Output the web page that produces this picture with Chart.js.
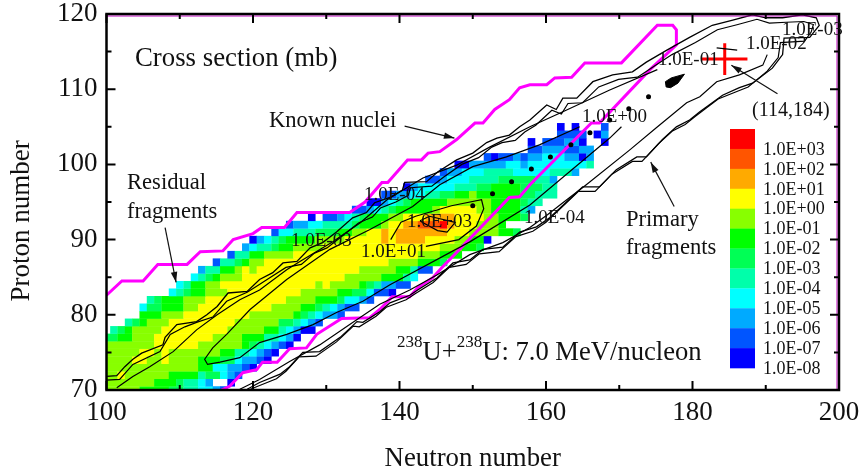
<!DOCTYPE html>
<html>
<head>
<meta charset="utf-8">
<style>
  body { margin: 0; background: #fff; }
  canvas { display: block; }
</style>
</head>
<body>
<canvas id="chart" width="864" height="476"></canvas>
<script src="https://cdn.jsdelivr.net/npm/chart.js"></script>
<script>
/* ---------------- DATA ---------------- */
const xTicks = [100, 120, 140, 160, 180, 200];
const yTicks = [70, 80, 90, 100, 110, 120];
const xMinorTicks = [110, 130, 150, 170, 190];
const yMinorTicks = [75, 85, 95, 105, 115];

const levelLabels = ['1.0E-08', '1.0E-07', '1.0E-06', '1.0E-05', '1.0E-04', '1.0E-03',
  '1.0E-02', '1.0E-01', '1.0E+00', '1.0E+01', '1.0E+02', '1.0E+03'];
const levelColors = ['#0000ff', '#0055ff', '#00aaff', '#00ffff', '#00ffaa', '#00ff55',
  '#00ff00', '#88ff00', '#ffff00', '#ffaa00', '#ff5500', '#ff0000'];

// proton number of each heat row, first neutron number, then level runs
// (level digit in base 12, "x" count, "." = empty cell)
const heatZ = [70, 71, 72, 73, 74, 75, 76, 77, 78, 79, 80, 81, 82, 83, 84, 85, 86, 87,
  88, 89, 90, 91, 92, 93, 94, 95, 96, 97, 98, 99, 100, 101, 102, 103, 104, 105];
const heatStart = [100, 100, 100, 100, 100, 100, 100, 100, 101, 103, 105, 105, 106, 109, 110, 112, 113, 115,
  117, 119, 120, 123, 125, 128, 134, 136, 138, 141, 144, 146, 148, 152, 158, 158, 162, 162];
const heatRuns = [
  '7x5 6x4 5x2 4x2 3x2 2 1',
  '7x7 6x3 5 4x2 3 2 .x2 0',
  '7x2 8 7x6 6x4 4 5x2 3 2 1',
  '7x13 6x2 3x2 2x2 1 0',
  '7x4 8x2 7x2 8 7x4 6x3 5x2 3 2x2 1 0',
  '7x5 8x2 7 8 7x7 6x2 4x2 3 2 1 0',
  '7x7 8x6 7x6 6 5 4 3 2 1 0',
  '5x2 6x2 7x3 8x8 7x4 6x3 4x2 3 2 0',
  '4 5 6 7x4 8x9 7x5 6x2 4 3 2 0x2',
  '4 5 6 7x3 8x9 7x6 5x2 4 3 2 1',
  '6x3 7x3 8x9 7x6 6 5 4 3 2x2 1',
  '3 5x2 6x3 7x2 8x10 7x4 6x2 5 4 3 2 1x2',
  '4 5 6x3 7x3 8x11 7x4 6x3 5 3x2 2 1',
  '3 4 5 6x2 7x3 8x10 7x5 6x2 5x2 3 1x2 0',
  '3 4 6x2 7x2 8x13 7 8 7x4 6 5 4 2x2 1x2',
  '3 4 5 6 7x3 8x14 7x5 6x3 4 3',
  '2 4x2 6x2 7 8 7 8x14 7x5 6x2 4 1x2',
  '1 4x2 5 6 7x2 8x17 7x4 6x3 5',
  '1 4x2 6x2 7x4 8x17 7x3 6x3',
  '2 3 4x2 5 6x2 7x4 8x16 7x3 6x2 5',
  '0 2 3 4 5 6x4 7x4 8x5 9 8 9x4 8x4 7x2 6x2 0',
  '1 3x2 4x3 5x3 6x2 7x2 8x2 9 8 9x7 8x3 7x4 6x2 5',
  '1 2x2 3x2 4x4 5 6x3 7 8x2 9x2 ax3 b 9 8x3 7x3 6',
  '0 . 1x2 2 3 4 5 6x3 7x2 8x3 9x4 8x4 7x2 6x3 5',
  '1x2 2 3 4 5 6x5 7 8x5 7x2 6x4 4 2',
  '0x2 2 3 4 5 6x5 7x6 6x4 5 4x2',
  '1x2 2x2 3x2 4x2 5x2 6x2 7 6x6 5x2 4x3',
  '0 2 3x5 4x3 5x2 6x4 5x3 4x2',
  '1x2 2 3x3 4x4 5x5 4x2 2',
  '1 2x2 3x3 4x4 3x5 4x3 2',
  '0x2 2x5 3x2 2 3x8 4',
  '1 0 1x2 2 1 2x2 3x3 2x2 0 2',
  '1x2 2x3 1x2 2x2',
  '0 . 1x3 2x2 0 .x2 0',
  '1x4 . 0 2',
  '0 . 0 .x3 1'
];

// known nuclei boundary, [N, Z]
const knownNuclei = [[100, 82.6], [102.1, 84.5], [105, 84.5], [107, 86.7], [111, 86.7], [112.8, 88.4], [115.9, 88.5],
  [117.3, 90], [120, 90.8], [121.2, 91.6], [124.3, 91.6], [126, 93.6], [133.2, 93.6], [135.3, 95], [137.6, 97.6],
  [138.4, 97.6], [141.1, 100.6], [143, 100.6], [143.9, 101.5], [145.5, 101.7], [147.8, 103.3], [150.3, 105.5],
  [151.4, 105.5], [153, 107.3], [155, 108.6], [156.4, 110.2], [157.8, 110.6], [160.1, 110.6], [161.2, 111.5],
  [163.5, 111.6], [165.3, 113.5], [170.3, 113.5], [175.2, 118.5], [177.3, 118.5], [177.8, 117.9], [177.8, 115.9],
  [174.2, 112.6], [167.3, 105.5], [166.2, 105.5], [157.8, 97.3], [156.4, 95.7], [155, 95.6], [148.2, 88.7],
  [145.8, 86.3], [144.5, 84.9], [142.5, 83.6], [141.4, 82.4], [139, 82.4], [137.3, 80.7], [135.9, 79.6],
  [132.1, 79.5], [128.7, 77.4], [127.3, 75.6], [125, 75.5], [123.3, 73.7], [121.3, 73.7], [120.5, 72.7],
  [118.6, 72.3], [116.8, 70.5], [115.7, 70]];

// contours, [N, Z]
const contourOuter = [[100, 71.8], [101.4, 71.9], [102.5, 73.1], [103.6, 74.1], [104.8, 74.9], [107.7, 76], [108, 77],
  [109.6, 78.7], [112.3, 79.1], [113.7, 80], [115.1, 81.1], [116.6, 82.9], [119.2, 83.1], [120.9, 84.7], [122.7, 85.6],
  [124.1, 86.9], [126, 87.1], [127.8, 88.9], [129.5, 89.6], [131.4, 91], [133.6, 92.9], [135.5, 93.6], [136.6, 94.9],
  [138.7, 95.6], [140.4, 96.6], [140.7, 97.6], [143.7, 97.7], [145.2, 99], [147.8, 100.6], [150, 101.5], [151.9, 102.9],
  [153.3, 103.5], [155, 103.9], [156.4, 105], [157.8, 105.9], [160.1, 107.9], [161.4, 107.3], [162.3, 108.8],
  [164.2, 108.8], [166.4, 111], [169.1, 111.9], [171.8, 112.3], [173.7, 113.6], [176.5, 115.2], [179.6, 116.9],
  [182.7, 118.5], [185.5, 119.2], [188.2, 119.9], [190, 119.5], [192.3, 119.5], [195, 119.9], [196.9, 119.5],
  [197.3, 118.5], [196, 116.9], [192.5, 116.8], [192.3, 114.6], [190.9, 112.8], [188.2, 110.8], [186.4, 110.2],
  [184.1, 109.2], [181, 107], [179.6, 105.9], [177.8, 105], [175.9, 103.3], [173.7, 101], [172.4, 101], [169.6, 99.3],
  [167.3, 97], [165, 97], [160.5, 92.9], [158.7, 91.7], [156.4, 91], [154.1, 89], [151.4, 88.7], [149.6, 87.3],
  [147.3, 86.9], [145.1, 84.9], [142.8, 83.5], [141.4, 82.6], [138.7, 81.6], [137.3, 80.4], [135, 79], [134.2, 79.1],
  [131.9, 77], [129.1, 75.1], [126.8, 75], [125, 73.1], [123.7, 72.1], [120.9, 71], [119.2, 70.1]];
const contourSecond = [[100, 71.3], [101.8, 71.4], [103.6, 73.4], [107.3, 75.1], [108.7, 77.4], [110.7, 78.4], [112.3, 79],
  [114.5, 79.7], [116.4, 81.8], [119.2, 83], [120.5, 83.8], [122.4, 85], [124.5, 86.3], [126.6, 86.7], [128.4, 88.2],
  [130.1, 88.9], [132.1, 90.4], [134.4, 92.2], [136.3, 93], [137.4, 94.2], [139.5, 95], [141.2, 95.9], [141.5, 96.9],
  [144.4, 97.1], [146, 98.3], [148.5, 100], [150.8, 100.9], [152.6, 102.3], [154, 102.9], [155.8, 103.2], [157.1, 104.3],
  [158.6, 105.2], [160.8, 107.2], [162.1, 106.7], [163, 108.1], [165, 108.2], [167.2, 110.3], [169.9, 111.3],
  [172.5, 111.6], [174.5, 112.9], [177.2, 114.6], [180.4, 116.2], [183.4, 117.9], [186.2, 118.6], [188.8, 119.3],
  [190.5, 118.8], [192.8, 118.9], [195.2, 119], [196.5, 118.6], [196.2, 117.6], [195.3, 116.4], [192, 116.2],
  [191.7, 114.2], [190.2, 112.4], [187.6, 110.3], [185.8, 109.6], [183.5, 108.7], [180.4, 106.4], [179, 105.3],
  [177.2, 104.4], [175.3, 102.7], [173.1, 100.4], [171.8, 100.4], [169, 98.7], [166.7, 96.4], [164.4, 96.4], [160, 92.3],
  [158.2, 91.1], [155.9, 90.4], [153.6, 88.4], [150.9, 88.1], [149.1, 86.7], [146.8, 86.3], [144.6, 84.3], [142.3, 82.9],
  [140.9, 82], [138.2, 81], [136.8, 79.8], [134.5, 78.4], [133.7, 78.5], [131.4, 76.4], [128.6, 74.5], [126.3, 74.4],
  [124.5, 72.5], [123.2, 71.5], [120.4, 70.4], [119.4, 70]];
const contourTenthUpper = [[101.4, 70.3], [103.6, 71.8], [105.9, 73.1], [109.1, 75.1], [112.3, 78], [115.1, 80], [118.2, 82],
  [120.9, 83.3], [124.6, 86], [126.4, 87.1], [130.9, 89.7], [134.6, 92.2], [138.3, 95.3], [143.2, 98.2], [147.8, 99.9],
  [152.3, 102.3], [157.8, 105], [162.3, 107], [168.7, 109.9], [175.2, 112.6]];
const contourTenthTip = [[183.3, 115.5], [186.1, 115.2]];
const contourTenthLower = [[190.2, 114.6], [189.6, 113.2], [186.4, 111.9], [183.3, 111], [181, 109], [179.2, 108.2],
  [175.1, 104.9], [171.4, 101.9], [165.5, 97.3], [162.3, 94.9], [160.2, 93.3], [157.8, 91.6], [154.1, 89.6], [149.6, 88],
  [145.1, 85.3], [141.4, 83.3], [137.3, 81.4], [133.2, 78.7], [129.1, 76], [125, 73.8], [120.9, 71.4], [118.2, 70.1]];
const contourOne = [[170.3, 105], [168.7, 103.5], [157.8, 94.6], [149.6, 89.7], [138.7, 84], [135, 81.8], [131.4, 80.3],
  [128.2, 78.7], [124.6, 77.4], [120.9, 76.3], [118.2, 74.3], [115.5, 73.7], [113.8, 73.4], [113.4, 74.1], [114.5, 75.6],
  [116.4, 77.4], [119.6, 80.7], [124.6, 84.7], [130.5, 88.7], [135.9, 91.3], [141.8, 94.4], [145.5, 97.3], [150, 99.7],
  [154.6, 101], [159.1, 102.6], [164.6, 105]];
const contourTen = [[138.8, 90], [140.2, 92.3], [142.2, 93.1], [147.1, 94.5], [151.2, 95.3], [151.5, 94.1], [150.5, 91.8],
  [148.1, 90], [143.6, 89.1]];
const contourThousand = [[142.8, 92.5], [144.1, 93.1], [147.6, 92.3], [146.5, 91], [145.2, 91.2], [143.1, 92.3], [142.8, 92.5]];
const contourDots = [[150, 94.5], [152.7, 96.1], [155.3, 97.7], [158, 99.4], [160.6, 101], [163.4, 102.6], [166, 104.2],
  [168.7, 105.9], [171.3, 107.4], [174, 109]];
const contourBlob = [[176.3, 111], [177.1, 111.5], [178.9, 112], [178, 110.8], [177, 110.2], [176.4, 110.3], [176.3, 111]];

// the (114,184) marker
const markerH = [[181.2, 114], [187.5, 114]];
const markerV = [[184.4, 111.9], [184.4, 116.1]];

// arrows [fromN, fromZ, toN, toZ]
const arrows = [[191.6, 109.4, 185.3, 113.2], [140.7, 105.1, 147.5, 103.5], [108, 91.6, 109.5, 84.3], [177.5, 94.4, 174.3, 100.3]];

// free text [text, left, middle, size] in page pixels
const notes = [
  ['Cross section (mb)', 135, 59, 26.8],
  ['Known nuclei', 269, 121, 22.6],
  ['Residual', 127, 183, 22.6],
  ['fragments', 127, 212, 22.6],
  ['Primary', 626, 220, 22.6],
  ['fragments', 626, 248, 22.6],
  ['(114,184)', 752, 111, 20],
  ['1.0E-03', 782, 30, 19],
  ['1.0E-02', 746, 44, 19],
  ['1.0E-01', 658, 60, 19],
  ['1.0E+00', 582, 117, 19],
  ['1.0E-04', 524, 218, 19],
  ['1.0E-04', 364, 195, 19],
  ['1.0E-03', 291, 241, 19],
  ['1.0E+01', 361, 252, 19],
  ['1.0E+03', 407, 222, 19]
];

/* ---------------- HELPERS ---------------- */
const serif = '"Liberation Serif", "Times New Roman", serif';
const ink = '#111';

function points(pairs) {
  return pairs.map(p => ({ x: p[0], y: p[1] }));
}

function lineSet(pairs, color, width) {
  return {
    data: points(pairs),
    showLine: true,
    borderColor: color,
    borderWidth: width,
    pointRadius: 0,
    tension: 0,
    fill: false
  };
}

/* ---------------- PLUGINS ---------------- */
const heatPlugin = {
  id: 'heat',
  beforeDatasetsDraw(chart) {
    const { ctx, chartArea: a, scales: { x, y } } = chart;
    ctx.save();
    ctx.beginPath();
    ctx.rect(a.left, a.top, a.width, a.height);
    ctx.clip();
    heatZ.forEach((z, i) => {
      let n = heatStart[i];
      heatRuns[i].split(' ').forEach(token => {
        const count = token.length > 1 ? parseInt(token.slice(2)) : 1;
        if (token[0] !== '.') {
          const x0 = x.getPixelForValue(n - 0.5);
          const x1 = x.getPixelForValue(n + count - 0.5);
          const y0 = y.getPixelForValue(z + 0.5);
          const y1 = y.getPixelForValue(z - 0.5);
          ctx.fillStyle = levelColors[parseInt(token[0], 12)];
          ctx.fillRect(x0, y0, x1 - x0 + 0.3, y1 - y0 + 0.3);
        }
        n += count;
      });
    });
    ctx.restore();
  }
};

const framePlugin = {
  id: 'frame',
  afterDatasetsDraw(chart) {
    const { ctx, chartArea: a, scales: { x, y } } = chart;
    ctx.save();

    // hairline of the magenta layer along top and right
    ctx.strokeStyle = '#c000c0';
    ctx.lineWidth = 1;
    ctx.beginPath();
    ctx.moveTo(a.left, a.top + 2);
    ctx.lineTo(a.right - 2, a.top + 2);
    ctx.lineTo(a.right - 2, a.bottom);
    ctx.stroke();

    ctx.strokeStyle = '#000';
    ctx.lineWidth = 2.5;
    ctx.strokeRect(a.left, a.top, a.width, a.height);

    function xTick(v, len) {
      const px = x.getPixelForValue(v);
      ctx.moveTo(px, a.bottom); ctx.lineTo(px, a.bottom - len);
      ctx.moveTo(px, a.top); ctx.lineTo(px, a.top + len);
    }
    function yTick(v, len) {
      const py = y.getPixelForValue(v);
      ctx.moveTo(a.left, py); ctx.lineTo(a.left + len, py);
      ctx.moveTo(a.right, py); ctx.lineTo(a.right - len, py);
    }
    ctx.lineWidth = 2;
    ctx.beginPath();
    xTicks.forEach(v => xTick(v, 9));
    yTicks.forEach(v => yTick(v, 9));
    xMinorTicks.forEach(v => xTick(v, 5));
    yMinorTicks.forEach(v => yTick(v, 5));
    ctx.stroke();

    // arrows
    ctx.strokeStyle = ink;
    ctx.fillStyle = ink;
    ctx.lineWidth = 1.2;
    arrows.forEach(r => {
      const x0 = x.getPixelForValue(r[0]), y0 = y.getPixelForValue(r[1]);
      const x1 = x.getPixelForValue(r[2]), y1 = y.getPixelForValue(r[3]);
      const t = Math.atan2(y1 - y0, x1 - x0);
      ctx.beginPath();
      ctx.moveTo(x0, y0);
      ctx.lineTo(x1, y1);
      ctx.stroke();
      ctx.beginPath();
      ctx.moveTo(x1, y1);
      ctx.lineTo(x1 - 11 * Math.cos(t - 0.3), y1 - 11 * Math.sin(t - 0.3));
      ctx.lineTo(x1 - 11 * Math.cos(t + 0.3), y1 - 11 * Math.sin(t + 0.3));
      ctx.closePath();
      ctx.fill();
    });

    // free text
    ctx.textBaseline = 'middle';
    ctx.textAlign = 'left';
    notes.forEach(n => {
      ctx.font = n[3] + 'px ' + serif;
      ctx.fillText(n[0], n[1], n[2]);
    });

    // reaction label with superscripts
    let left = 397;
    [['238', 17, 343], ['U+', 26.6, 353], ['238', 17, 343], ['U: 7.0 MeV/nucleon', 26.6, 353]].forEach(p => {
      ctx.font = p[1] + 'px ' + serif;
      ctx.fillText(p[0], left, p[2]);
      left += ctx.measureText(p[0]).width;
    });

    // colour key, red on top
    const n = levelColors.length;
    for (let i = 0; i < n; i++) {
      const level = n - 1 - i;
      ctx.fillStyle = levelColors[level];
      ctx.fillRect(730, 129 + i * 19.92, 25, 20.2);
      ctx.fillStyle = ink;
      ctx.font = '18px ' + serif;
      ctx.fillText(levelLabels[level], 763, 150 + i * 19.9);
    }

    // y axis title sits below the middle of the axis in the original
    ctx.save();
    ctx.translate(22, 221);
    ctx.rotate(-Math.PI / 2);
    ctx.textAlign = 'center';
    ctx.font = '27px ' + serif;
    ctx.fillText('Proton number', 0, 0);
    ctx.restore();

    ctx.restore();
  }
};

/* ---------------- CHART ---------------- */
new Chart(document.getElementById('chart').getContext('2d'), {
  type: 'scatter',
  data: {
    datasets: [
      lineSet(contourOuter, '#000', 1.3),
      lineSet(contourSecond, '#000', 1.2),
      lineSet(contourTenthUpper, '#000', 1.2),
      lineSet(contourTenthTip, '#000', 1.2),
      lineSet(contourTenthLower, '#000', 1.2),
      lineSet(contourOne, '#000', 1.2),
      lineSet(contourTen, '#000', 1.2),
      lineSet(contourThousand, '#000', 1.2),
      {
        data: points(contourDots),
        pointStyle: 'circle',
        pointRadius: 2.5,
        pointBackgroundColor: '#000',
        pointBorderWidth: 0,
        showLine: false
      },
      Object.assign(lineSet(contourBlob, '#000', 1), { fill: 'shape', backgroundColor: '#000' }),
      lineSet(knownNuclei, '#ff00ff', 3),
      lineSet(markerH, '#ff0000', 3),
      lineSet(markerV, '#ff0000', 3)
    ]
  },
  plugins: [heatPlugin, framePlugin],
  options: {
    responsive: false,
    animation: false,
    layout: { padding: { top: 14, right: 25, bottom: 0, left: 0 } },
    plugins: { legend: { display: false }, tooltip: { enabled: false } },
    scales: {
      x: {
        type: 'linear',
        min: 100,
        max: 200,
        afterBuildTicks: s => { s.ticks = xTicks.map(v => ({ value: v })); },
        afterFit: s => { s.height = 86; s.paddingLeft = 0; s.paddingRight = 0; },
        grid: { display: false, drawTicks: false },
        border: { display: false },
        ticks: { color: ink, font: { family: serif, size: 27 }, padding: 7, maxRotation: 0 },
        title: {
          display: true,
          text: 'Neutron number',
          color: ink,
          font: { family: serif, size: 26.8 },
          padding: { top: 4, bottom: 1 }
        }
      },
      y: {
        type: 'linear',
        min: 70,
        max: 120,
        afterBuildTicks: s => { s.ticks = yTicks.map(v => ({ value: v })); },
        afterFit: s => { s.width = 106.5; s.paddingTop = 0; s.paddingBottom = 0; },
        grid: { display: false, drawTicks: false },
        border: { display: false },
        ticks: { color: ink, font: { family: serif, size: 27 }, padding: 9 }
      }
    }
  }
});
</script>
</body>
</html>
